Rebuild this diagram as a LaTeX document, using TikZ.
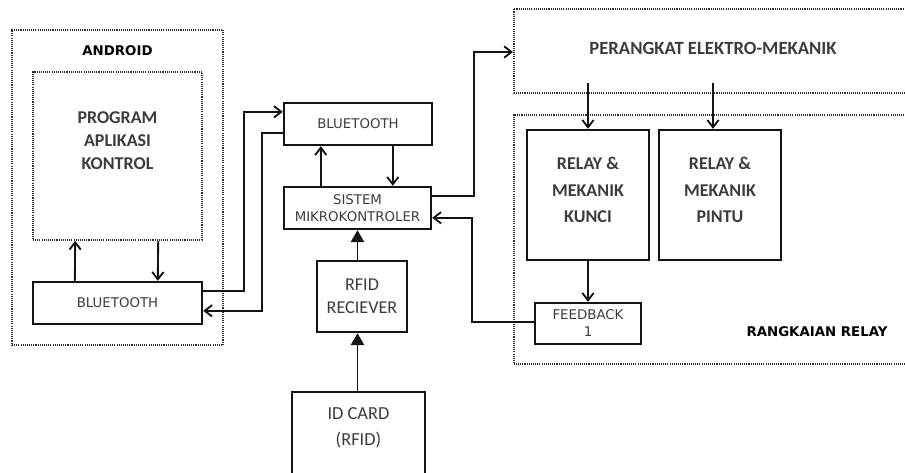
\documentclass[tikz,border=0pt]{standalone}
\usepackage{fontspec}
\setmainfont{Carlito}
\newfontfamily\verdfont{DejaVu Sans}
\usepackage{tikz}
\usetikzlibrary{arrows.meta,calc,positioning}
\definecolor{dgInk}{RGB}{20,20,20}
\definecolor{dgText}{RGB}{60,60,60}
\definecolor{dgDots}{RGB}{45,45,45}

\begin{document}
\begin{tikzpicture}[x=0.75pt,y=-0.75pt,
  boxsize/.style 2 args={minimum width=#1*0.75pt,minimum height=#2*0.75pt},
  solidbox/.style={draw=dgInk,line width=1.8pt,inner sep=0pt,align=center},
  dotbox/.style={draw=dgDots,line width=1.2pt,dash pattern=on 0.8pt off 0.8pt,inner sep=0pt},
  calitxt/.style={font=\fontsize{13.5}{17.25}\selectfont\bfseries,text=dgText,align=center},
  verdtxt/.style={font=\verdfont\fontsize{10}{12.75}\selectfont,text=dgText},
  blacktxt/.style={font=\verdfont\bfseries\fontsize{10}{12}\selectfont,text=black},
  link/.style={draw=dgInk,line width=1.4pt,-{Straight Barb[length=5.5pt,width=8.5pt]}},
  feed/.style={draw=dgInk,line width=1.4pt,-{Triangle[length=9pt,width=10pt]}}]
  \useasboundingbox (0,0) rectangle (905,472);
  \clip (0,0) rectangle (905,472);
  % android side
  \node[dotbox,boxsize={211}{315}] (android) at (117.5,187.5) {};
  \node[blacktxt] (androidtxt) at (117.5,51) {ANDROID};
  \node[dotbox,boxsize={169}{168}] (prog) at (117.5,156) {};
  \node[calitxt] (progtxt) at (117.5,141) {PROGRAM\\APLIKASI\\KONTROL};
  \node[solidbox,verdtxt,boxsize={169}{42}] (btphone) at (117.5,303) {BLUETOOTH};
  % controller
  \node[solidbox,verdtxt,boxsize={148}{42}] (btmodule) at (358,124) {BLUETOOTH};
  \node[solidbox,verdtxt,boxsize={147}{42}] (mcu) at (357.5,208) {SISTEM\\MIKROKONTROLER};
  \node[solidbox,boxsize={90}{71},font=\fontsize{13.6}{17.25}\selectfont,text=dgText] (rfid) at (362,296.5) {RFID\\RECIEVER};
  \node[solidbox,boxsize={133}{90}] (idcard) at (358.5,437) {};
  \node[font=\fontsize{13.8}{19.5}\selectfont,text=dgText,align=center] (idtxt) at (358.5,428) {ID CARD\\(RFID)};
  % relay side
  \node[dotbox,boxsize={410}{84},anchor=north west] (perangkat) at (513,8) {};
  \node[calitxt,font=\fontsize{14}{17}\selectfont\bfseries] (perangkattxt) at (713,48) {PERANGKAT ELEKTRO-MEKANIK};
  \node[dotbox,boxsize={410}{249},anchor=north west] (rangkaian) at (513,114) {};
  \node[blacktxt] (rangkaiantxt) at (817,332) {RANGKAIAN RELAY};
  \node[solidbox,boxsize={122}{130}] (kunci) at (588,195) {};
  \node[calitxt,font=\fontsize{13.5}{20}\selectfont\bfseries] (kuncitxt) at (588,190) {RELAY \&\\MEKANIK\\KUNCI};
  \node[solidbox,boxsize={122}{130}] (pintu) at (720,195) {};
  \node[calitxt,font=\fontsize{13.5}{20}\selectfont\bfseries] (pintutxt) at (720,190) {RELAY \&\\MEKANIK\\PINTU};
  \node[solidbox,verdtxt,boxsize={106}{41}] (feedback) at (588,323.5) {FEEDBACK\\1};
  \coordinate (p1) at ($(perangkat.north west)+(75,75)$);
  \coordinate (p2) at ($(perangkat.north west)+(200,75)$);
  % connectors
  \draw[link] ($(btphone.north west)+(43,0)$) -- ($(prog.south west)+(43,0)$);
  \draw[link] ($(prog.south west)+(126,0)$) -- ($(btphone.north west)+(126,0)$);
  \draw[link] ($(btphone.north east)+(0,10)$) -- ++(41,0) |- ($(btmodule.north west)+(0,10)$);
  \draw[link] ($(btmodule.north west)+(0,31)$) -- ++(-21,0) |- ($(btphone.north east)+(0,30)$);
  \draw[link] ($(mcu.north west)+(38,0)$) -- ($(btmodule.south west)+(38,0)$);
  \draw[link] ($(btmodule.south west)+(110,0)$) -- ($(mcu.north west)+(110,0)$);
  \draw[link] ($(mcu.north east)+(0,10)$) -- ++(42,0) |- ($(perangkat.north west)+(0,44)$);
  \draw[link] ($(feedback.north west)+(0,20)$) -- ++(-62,0) |- ($(mcu.north east)+(0,32)$);
  \draw[feed] (idcard.north -| mcu.south) -- (rfid.south -| mcu.south);
  \draw[feed] (rfid.north -| mcu.south) -- (mcu.south);
  \draw[link] (p1) -- (p1 |- kunci.north);
  \draw[link] (p2) -- (p2 |- pintu.north);
  \draw[link] (kunci.south) -- (feedback.north);
\end{tikzpicture}
\end{document}
